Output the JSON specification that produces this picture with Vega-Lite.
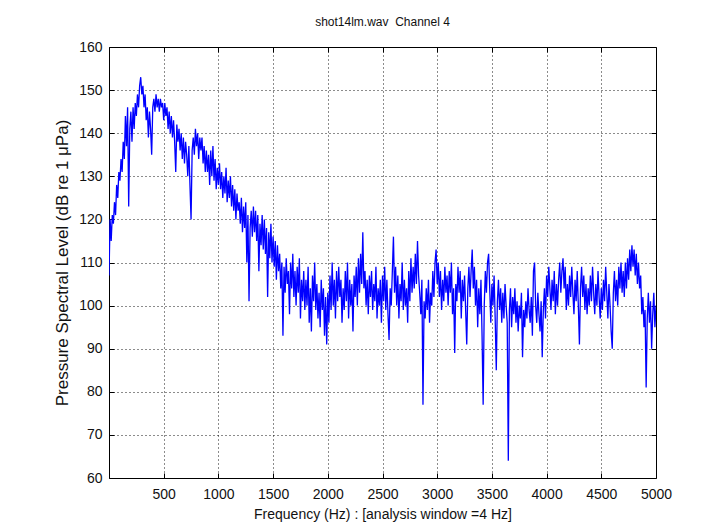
{
  "$schema": "https://vega.github.io/schema/vega-lite/v6.json",
  "autosize": {"type": "none"},
  "padding": {"left": 109, "top": 47, "right": 45, "bottom": 52},
  "width": 547,
  "height": 431,
  "background": "#ffffff",
  "title": {"text": "shot14lm.wav\u00a0 Channel 4", "font": "Liberation Sans", "fontSize": 12, "fontWeight": "normal", "color": "#111111", "offset": 11},
  "config": {
    "view": {"stroke": "#000000", "strokeWidth": 1},
    "axis": {"labelFont": "Liberation Sans", "titleFont": "Liberation Sans", "labelColor": "#111111", "titleColor": "#111111", "titleFontWeight": "normal", "domain": false, "tickColor": "#000000", "labelFlush": false}
  },
  "data": {"values": [
{"f":0,"p":107},{"f":10,"p":120},{"f":20,"p":115},{"f":30,"p":121},{"f":40,"p":119},{"f":50,"p":124},{"f":60,"p":121},{"f":70,"p":128},{"f":80,"p":125},{"f":90,"p":131},
{"f":100,"p":129},{"f":110,"p":134},{"f":120,"p":131},{"f":130,"p":138},{"f":140,"p":134},{"f":150,"p":144},{"f":160,"p":137},{"f":170,"p":146},{"f":180,"p":123},{"f":190,"p":141},
{"f":200,"p":145},{"f":210,"p":138},{"f":220,"p":146},{"f":230,"p":141},{"f":240,"p":147},{"f":250,"p":144},{"f":260,"p":149},{"f":270,"p":146},{"f":280,"p":151},{"f":290,"p":153},
{"f":300,"p":149},{"f":310,"p":151},{"f":320,"p":146},{"f":330,"p":149},{"f":340,"p":143},{"f":350,"p":146},{"f":360,"p":139},{"f":370,"p":145},{"f":380,"p":141},{"f":390,"p":135},
{"f":400,"p":146},{"f":410,"p":148},{"f":420,"p":145},{"f":430,"p":149},{"f":440,"p":146},{"f":450,"p":148},{"f":460,"p":145},{"f":470,"p":148},{"f":480,"p":146},{"f":490,"p":147},
{"f":500,"p":143},{"f":510,"p":147},{"f":520,"p":144},{"f":530,"p":146},{"f":540,"p":141},{"f":550,"p":145},{"f":560,"p":140},{"f":570,"p":144},{"f":580,"p":139},{"f":590,"p":143},
{"f":600,"p":138},{"f":610,"p":131},{"f":620,"p":142},{"f":630,"p":138},{"f":640,"p":141},{"f":650,"p":136},{"f":660,"p":140},{"f":670,"p":134},{"f":680,"p":139},{"f":690,"p":133},
{"f":700,"p":138},{"f":710,"p":135},{"f":720,"p":130},{"f":730,"p":137},{"f":740,"p":128},{"f":750,"p":120},{"f":760,"p":136},{"f":770,"p":139},{"f":780,"p":135},{"f":790,"p":141},
{"f":800,"p":137},{"f":810,"p":140},{"f":820,"p":134},{"f":830,"p":139},{"f":840,"p":136},{"f":850,"p":139},{"f":860,"p":133},{"f":870,"p":137},{"f":880,"p":131},{"f":890,"p":136},
{"f":900,"p":131},{"f":910,"p":135},{"f":920,"p":128},{"f":930,"p":136},{"f":940,"p":130},{"f":950,"p":137},{"f":960,"p":129},{"f":970,"p":134},{"f":980,"p":127},{"f":990,"p":132},
{"f":1000,"p":128},{"f":1010,"p":133},{"f":1020,"p":127},{"f":1030,"p":131},{"f":1040,"p":125},{"f":1050,"p":130},{"f":1060,"p":126},{"f":1070,"p":132},{"f":1080,"p":124},{"f":1090,"p":129},
{"f":1100,"p":125},{"f":1110,"p":130},{"f":1120,"p":123},{"f":1130,"p":128},{"f":1140,"p":122},{"f":1150,"p":127},{"f":1160,"p":120},{"f":1170,"p":126},{"f":1180,"p":122},{"f":1190,"p":124},
{"f":1200,"p":119},{"f":1210,"p":125},{"f":1220,"p":117},{"f":1230,"p":123},{"f":1240,"p":118},{"f":1250,"p":124},{"f":1260,"p":110},{"f":1270,"p":121},{"f":1280,"p":101},{"f":1290,"p":118},
{"f":1300,"p":122},{"f":1310,"p":116},{"f":1320,"p":123},{"f":1330,"p":117},{"f":1340,"p":122},{"f":1350,"p":115},{"f":1360,"p":121},{"f":1370,"p":108},{"f":1380,"p":119},{"f":1390,"p":114},
{"f":1400,"p":121},{"f":1410,"p":113},{"f":1420,"p":120},{"f":1430,"p":112},{"f":1440,"p":118},{"f":1450,"p":102},{"f":1460,"p":117},{"f":1470,"p":111},{"f":1480,"p":119},{"f":1490,"p":110},
{"f":1500,"p":116},{"f":1510,"p":109},{"f":1520,"p":115},{"f":1530,"p":106},{"f":1540,"p":114},{"f":1550,"p":108},{"f":1560,"p":112},{"f":1570,"p":104},{"f":1580,"p":110},{"f":1590,"p":93},
{"f":1600,"p":109},{"f":1610,"p":103},{"f":1620,"p":111},{"f":1630,"p":105},{"f":1640,"p":108},{"f":1650,"p":98},{"f":1660,"p":110},{"f":1670,"p":104},{"f":1680,"p":112},{"f":1690,"p":102},
{"f":1700,"p":108},{"f":1710,"p":100},{"f":1720,"p":109},{"f":1730,"p":103},{"f":1740,"p":111},{"f":1750,"p":97},{"f":1760,"p":106},{"f":1770,"p":101},{"f":1780,"p":108},{"f":1790,"p":99},
{"f":1800,"p":106},{"f":1810,"p":100},{"f":1820,"p":109},{"f":1830,"p":96},{"f":1840,"p":104},{"f":1850,"p":94},{"f":1860,"p":107},{"f":1870,"p":101},{"f":1880,"p":110},{"f":1890,"p":99},
{"f":1900,"p":105},{"f":1910,"p":97},{"f":1920,"p":103},{"f":1930,"p":95},{"f":1940,"p":106},{"f":1950,"p":99},{"f":1960,"p":104},{"f":1970,"p":93},{"f":1980,"p":102},{"f":1990,"p":91},
{"f":2000,"p":103},{"f":2010,"p":96},{"f":2020,"p":107},{"f":2030,"p":99},{"f":2040,"p":110},{"f":2050,"p":100},{"f":2060,"p":106},{"f":2070,"p":97},{"f":2080,"p":108},{"f":2090,"p":101},
{"f":2100,"p":109},{"f":2110,"p":102},{"f":2120,"p":106},{"f":2130,"p":96},{"f":2140,"p":104},{"f":2150,"p":99},{"f":2160,"p":108},{"f":2170,"p":101},{"f":2180,"p":110},{"f":2190,"p":97},
{"f":2200,"p":106},{"f":2210,"p":100},{"f":2220,"p":105},{"f":2230,"p":94},{"f":2240,"p":107},{"f":2250,"p":102},{"f":2260,"p":109},{"f":2270,"p":100},{"f":2280,"p":111},{"f":2290,"p":103},
{"f":2300,"p":112},{"f":2310,"p":105},{"f":2320,"p":117},{"f":2330,"p":104},{"f":2340,"p":108},{"f":2350,"p":100},{"f":2360,"p":106},{"f":2370,"p":98},{"f":2380,"p":107},{"f":2390,"p":102},
{"f":2400,"p":108},{"f":2410,"p":99},{"f":2420,"p":105},{"f":2430,"p":101},{"f":2440,"p":109},{"f":2450,"p":97},{"f":2460,"p":104},{"f":2470,"p":100},{"f":2480,"p":106},{"f":2490,"p":96},
{"f":2500,"p":107},{"f":2510,"p":101},{"f":2520,"p":109},{"f":2530,"p":99},{"f":2540,"p":106},{"f":2550,"p":98},{"f":2560,"p":92},{"f":2570,"p":104},{"f":2580,"p":100},{"f":2590,"p":108},
{"f":2600,"p":116},{"f":2610,"p":103},{"f":2620,"p":109},{"f":2630,"p":100},{"f":2640,"p":107},{"f":2650,"p":97},{"f":2660,"p":105},{"f":2670,"p":101},{"f":2680,"p":110},{"f":2690,"p":99},
{"f":2700,"p":106},{"f":2710,"p":100},{"f":2720,"p":104},{"f":2730,"p":96},{"f":2740,"p":108},{"f":2750,"p":101},{"f":2760,"p":111},{"f":2770,"p":103},{"f":2780,"p":109},{"f":2790,"p":104},
{"f":2800,"p":112},{"f":2810,"p":105},{"f":2820,"p":115},{"f":2830,"p":107},{"f":2840,"p":103},{"f":2850,"p":98},{"f":2860,"p":106},{"f":2870,"p":77},{"f":2880,"p":101},{"f":2890,"p":97},
{"f":2900,"p":104},{"f":2910,"p":99},{"f":2920,"p":106},{"f":2930,"p":96},{"f":2940,"p":103},{"f":2950,"p":100},{"f":2960,"p":108},{"f":2970,"p":102},{"f":2980,"p":110},{"f":2990,"p":113},
{"f":3000,"p":105},{"f":3010,"p":110},{"f":3020,"p":102},{"f":3030,"p":108},{"f":3040,"p":99},{"f":3050,"p":106},{"f":3060,"p":101},{"f":3070,"p":109},{"f":3080,"p":103},{"f":3090,"p":107},
{"f":3100,"p":100},{"f":3110,"p":108},{"f":3120,"p":103},{"f":3130,"p":110},{"f":3140,"p":98},{"f":3150,"p":104},{"f":3160,"p":89},{"f":3170,"p":105},{"f":3180,"p":101},{"f":3190,"p":109},
{"f":3200,"p":103},{"f":3210,"p":108},{"f":3220,"p":97},{"f":3230,"p":106},{"f":3240,"p":101},{"f":3250,"p":107},{"f":3260,"p":99},{"f":3270,"p":91},{"f":3280,"p":104},{"f":3290,"p":109},
{"f":3300,"p":102},{"f":3310,"p":108},{"f":3320,"p":113},{"f":3330,"p":104},{"f":3340,"p":109},{"f":3350,"p":100},{"f":3360,"p":106},{"f":3370,"p":95},{"f":3380,"p":104},{"f":3390,"p":98},
{"f":3400,"p":106},{"f":3410,"p":93},{"f":3420,"p":77},{"f":3430,"p":100},{"f":3440,"p":108},{"f":3450,"p":103},{"f":3460,"p":110},{"f":3470,"p":112},{"f":3480,"p":104},{"f":3490,"p":96},
{"f":3500,"p":105},{"f":3510,"p":100},{"f":3520,"p":107},{"f":3530,"p":97},{"f":3540,"p":85},{"f":3550,"p":101},{"f":3560,"p":106},{"f":3570,"p":99},{"f":3580,"p":104},{"f":3590,"p":96},
{"f":3600,"p":103},{"f":3610,"p":97},{"f":3620,"p":105},{"f":3630,"p":100},{"f":3640,"p":96},{"f":3650,"p":64},{"f":3660,"p":99},{"f":3670,"p":104},{"f":3680,"p":95},{"f":3690,"p":102},
{"f":3700,"p":98},{"f":3710,"p":104},{"f":3720,"p":96},{"f":3730,"p":101},{"f":3740,"p":94},{"f":3750,"p":100},{"f":3760,"p":97},{"f":3770,"p":103},{"f":3780,"p":88},{"f":3790,"p":99},
{"f":3800,"p":95},{"f":3810,"p":101},{"f":3820,"p":97},{"f":3830,"p":104},{"f":3840,"p":99},{"f":3850,"p":96},{"f":3860,"p":102},{"f":3870,"p":93},{"f":3880,"p":108},{"f":3890,"p":110},
{"f":3900,"p":100},{"f":3910,"p":96},{"f":3920,"p":103},{"f":3930,"p":98},{"f":3940,"p":94},{"f":3950,"p":101},{"f":3960,"p":88},{"f":3970,"p":99},{"f":3980,"p":104},{"f":3990,"p":97},
{"f":4000,"p":107},{"f":4010,"p":102},{"f":4020,"p":109},{"f":4030,"p":104},{"f":4040,"p":99},{"f":4050,"p":106},{"f":4060,"p":101},{"f":4070,"p":108},{"f":4080,"p":98},{"f":4090,"p":105},
{"f":4100,"p":100},{"f":4110,"p":106},{"f":4120,"p":110},{"f":4130,"p":103},{"f":4140,"p":108},{"f":4150,"p":111},{"f":4160,"p":104},{"f":4170,"p":109},{"f":4180,"p":99},{"f":4190,"p":105},
{"f":4200,"p":100},{"f":4210,"p":107},{"f":4220,"p":102},{"f":4230,"p":109},{"f":4240,"p":103},{"f":4250,"p":98},{"f":4260,"p":106},{"f":4270,"p":101},{"f":4280,"p":108},{"f":4290,"p":100},
{"f":4300,"p":91},{"f":4310,"p":104},{"f":4320,"p":109},{"f":4330,"p":102},{"f":4340,"p":107},{"f":4350,"p":99},{"f":4360,"p":105},{"f":4370,"p":98},{"f":4380,"p":104},{"f":4390,"p":100},
{"f":4400,"p":107},{"f":4410,"p":101},{"f":4420,"p":109},{"f":4430,"p":103},{"f":4440,"p":98},{"f":4450,"p":105},{"f":4460,"p":100},{"f":4470,"p":108},{"f":4480,"p":102},{"f":4490,"p":97},
{"f":4500,"p":104},{"f":4510,"p":99},{"f":4520,"p":106},{"f":4530,"p":101},{"f":4540,"p":109},{"f":4550,"p":103},{"f":4560,"p":97},{"f":4570,"p":105},{"f":4580,"p":100},{"f":4590,"p":94},
{"f":4600,"p":90},{"f":4610,"p":103},{"f":4620,"p":108},{"f":4630,"p":101},{"f":4640,"p":106},{"f":4650,"p":100},{"f":4660,"p":109},{"f":4670,"p":104},{"f":4680,"p":110},{"f":4690,"p":103},
{"f":4700,"p":108},{"f":4710,"p":102},{"f":4720,"p":110},{"f":4730,"p":104},{"f":4740,"p":111},{"f":4750,"p":106},{"f":4760,"p":113},{"f":4770,"p":108},{"f":4780,"p":114},{"f":4790,"p":109},
{"f":4800,"p":113},{"f":4810,"p":107},{"f":4820,"p":112},{"f":4830,"p":105},{"f":4840,"p":110},{"f":4850,"p":104},{"f":4860,"p":107},{"f":4870,"p":98},{"f":4880,"p":102},{"f":4890,"p":95},
{"f":4900,"p":99},{"f":4910,"p":81},{"f":4920,"p":97},{"f":4930,"p":103},{"f":4940,"p":96},{"f":4950,"p":101},{"f":4960,"p":90},{"f":4970,"p":98},{"f":4980,"p":103},{"f":4990,"p":95},{"f":5000,"p":100}
  ]},
  "layer": [
    {
      "mark": {"type": "line", "color": "#0000ff", "strokeWidth": 1.3, "clip": true},
      "encoding": {
        "x": {"field": "f", "type": "quantitative", "scale": {"domain": [0, 5000], "nice": false},
          "axis": {"orient": "bottom", "values": [500,1000,1500,2000,2500,3000,3500,4000,4500,5000], "format": "d", "title": "Frequency (Hz) : [analysis window =4 Hz]", "labelFontSize": 14, "titleFontSize": 14, "tickSize": -5, "labelPadding": 14, "titlePadding": 6, "grid": true, "gridColor": "#000000", "gridDash": [1, 3], "gridOpacity": 0.9}},
        "y": {"field": "p", "type": "quantitative", "scale": {"domain": [60, 160], "nice": false},
          "axis": {"orient": "left", "values": [60,70,80,90,100,110,120,130,140,150,160], "format": "d", "title": "Pressure Spectral Level (dB re 1 μPa)", "labelFontSize": 14, "titleFontSize": 17, "tickSize": -5, "labelPadding": 12, "titlePadding": 7, "grid": true, "gridColor": "#000000", "gridDash": [1, 3], "gridOpacity": 0.9}}
      }
    },
    {
      "mark": {"type": "line", "strokeOpacity": 0},
      "encoding": {
        "x": {"field": "f", "type": "quantitative", "scale": {"domain": [0, 5000], "nice": false},
          "axis": {"orient": "top", "values": [500,1000,1500,2000,2500,3000,3500,4000,4500], "labels": false, "title": null, "tickSize": -5, "grid": false}},
        "y": {"field": "p", "type": "quantitative", "scale": {"domain": [60, 160], "nice": false},
          "axis": {"orient": "right", "values": [70,80,90,100,110,120,130,140,150], "labels": false, "title": null, "tickSize": -5, "grid": false}}
      }
    }
  ],
  "resolve": {"axis": {"x": "independent", "y": "independent"}}
}
